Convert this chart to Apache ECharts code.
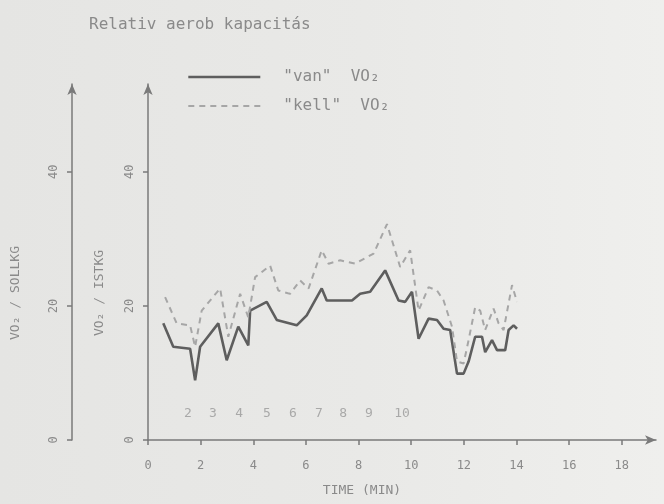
<!DOCTYPE html>
<html>
<head>
<meta charset="utf-8">
<script src="https://cdn.jsdelivr.net/npm/echarts@6/dist/echarts.min.js"></script>
<style>html,body{margin:0;padding:0;background:#e9e9e7}#c{width:664px;height:504px}</style>
</head>
<body>
<div id="c"></div>
<script>
// ---- data ----
const titleText = 'Relativ aerob kapacitás';
const vanName = '"van"  VO₂';
const kellName = '"kell"  VO₂';

const vanTime  = [0.58,0.96,1.60,1.79,1.98,2.67,2.99,3.43,3.81,3.88,4.51,4.89,5.65,6.03,6.60,6.79,7.24,7.75,8.06,8.44,9.01,9.52,9.77,10.03,10.28,10.66,10.98,11.23,11.48,11.74,11.99,12.18,12.43,12.69,12.81,13.07,13.26,13.57,13.70,13.89,14.02];
const vanValue = [17.4,13.9,13.6,8.9,13.9,17.4,11.9,16.9,14.1,19.3,20.6,17.9,17.1,18.6,22.6,20.8,20.8,20.8,21.8,22.1,25.3,20.8,20.6,22.1,15.1,18.1,17.9,16.6,16.4,9.9,9.9,11.7,15.4,15.4,13.1,14.9,13.4,13.4,16.4,17.1,16.6];

const kellTime  = [0.65,1.09,1.60,1.79,2.04,2.74,3.05,3.50,3.81,4.07,4.64,4.95,5.40,5.78,6.10,6.60,6.86,7.30,7.87,8.57,9.08,9.58,9.96,10.28,10.66,10.98,11.23,11.55,11.74,11.99,12.18,12.43,12.62,12.81,13.13,13.32,13.51,13.83,14.02];
const kellValue = [21.3,17.4,17.1,13.9,19.3,22.6,15.4,21.8,18.3,24.3,26.0,22.3,21.8,23.8,22.6,28.3,26.3,26.8,26.3,27.8,32.2,25.8,28.3,19.3,22.8,22.3,20.8,16.9,11.7,11.4,14.9,19.8,19.3,16.4,19.6,17.4,16.4,23.1,20.6];

const stageLabels = ['2','3','4','5','6','7','8','9','10'];
const stageTimes  = [1.52,2.47,3.46,4.52,5.51,6.49,7.41,8.39,9.65];
const stageLevel  = 4.0;

const xTicks = [0,2,4,6,8,10,12,14,16,18];
const yTicks = [0,20,40];
const xName = 'TIME (MIN)';
const yInnerName = 'VO₂ / ISTKG';
const yOuterName = 'VO₂ / SOLLKG';

// ---- chart ----
const FONT = 'DejaVu Sans Mono';
const INK = '#8a8a8a';
const AX = '#7a7a7a';
const pairs = (a, b) => a.map((t, i) => [t, b[i]]);

const axisLineCommon = {
  show: true,
  lineStyle: { color: AX, width: 1.5 },
  symbol: ['none', 'arrow'],
  symbolSize: [7, 11]
};

function yAxisDef(offset, name, gap) {
  return {
    type: 'value', position: 'left', offset: offset,
    min: 0, max: 53.1, interval: 20,
    name: name, nameLocation: 'middle', nameGap: gap,
    nameTextStyle: { color: INK, fontFamily: FONT, fontSize: 13, padding: [0, 62, 0, 0] },
    axisLine: axisLineCommon,
    axisTick: { show: true, length: 5, customValues: yTicks, lineStyle: { color: AX, width: 1.5 } },
    axisLabel: { customValues: yTicks, rotate: 90, margin: 12, color: INK, fontFamily: FONT, fontSize: 12 },
    splitLine: { show: false }
  };
}

const chart = echarts.init(document.getElementById('c'), null, { renderer: 'canvas' });
chart.setOption({
  animation: false,
  backgroundColor: {
    type: 'linear', x: 0, y: 0, x2: 1, y2: 0,
    colorStops: [{ offset: 0, color: '#e5e5e3' }, { offset: 0.55, color: '#e9e9e7' }, { offset: 1, color: '#efefed' }]
  },
  title: {
    text: titleText, left: 84, top: 12,
    textStyle: { color: INK, fontFamily: FONT, fontSize: 16, fontWeight: 'normal' }
  },
  legend: {
    orient: 'vertical', left: 182, top: 64,
    itemWidth: 72, itemHeight: 14, itemGap: 13,
    itemStyle: { opacity: 0 },
    lineStyle: { width: 'inherit' },
    textStyle: { color: INK, fontFamily: FONT, fontSize: 16, padding: [0, 0, 0, 18] },
    data: [vanName, kellName]
  },
  grid: { left: 148, top: 84, right: 8, bottom: 64, containLabel: false },
  xAxis: {
    type: 'value', min: 0, max: 19.3, interval: 2,
    name: xName, nameLocation: 'middle', nameGap: 44,
    nameTextStyle: { color: INK, fontFamily: FONT, fontSize: 13, padding: [0, 80, 0, 0] },
    axisLine: axisLineCommon,
    axisTick: { show: true, length: 5, customValues: xTicks, lineStyle: { color: AX, width: 1.5 } },
    axisLabel: { customValues: xTicks, margin: 20, color: INK, fontFamily: FONT, fontSize: 12 },
    splitLine: { show: false }
  },
  yAxis: [yAxisDef(0, yInnerName, 42), yAxisDef(76, yOuterName, 50)],
  series: [
    {
      name: vanName, type: 'line', yAxisIndex: 0, symbol: 'none',
      data: pairs(vanTime, vanValue),
      lineStyle: { color: '#5e5e5e', width: 2.6 },
      itemStyle: { color: '#5e5e5e' }
    },
    {
      name: kellName, type: 'line', yAxisIndex: 0, symbol: 'none',
      data: pairs(kellTime, kellValue),
      lineStyle: { color: '#a6a6a6', width: 2, type: [6, 5] },
      itemStyle: { color: '#a6a6a6' }
    },
    {
      name: 'stages', type: 'scatter', yAxisIndex: 0, symbolSize: 0, silent: true,
      data: stageTimes.map((t, i) => [t, stageLevel, stageLabels[i]]),
      label: {
        show: true, position: 'inside', formatter: p => p.value[2],
        color: '#999', fontFamily: FONT, fontSize: 13
      }
    }
  ]
});
</script>
</body>
</html>
